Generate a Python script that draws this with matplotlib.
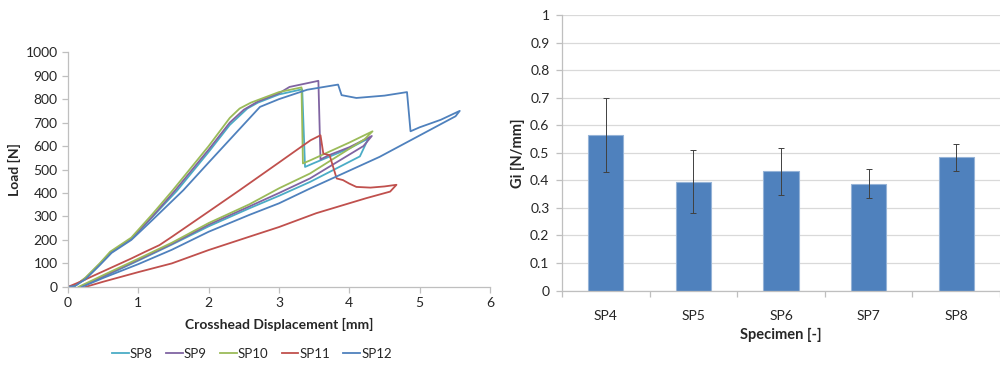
import matplotlib.pyplot as plt
from matplotlib.ticker import FixedLocator, FuncFormatter

plt.rcParams['font.family'] = ['Lato', 'DejaVu Sans']

# Load-displacement curves
sp8_x = [0, 0.1, 0.25, 0.45, 0.62, 0.9, 1.2, 1.55, 2.0, 2.3, 2.55, 2.7, 3.0, 3.33,
         3.37, 3.5, 4.0, 4.27, 4.15, 3.44, 3.0, 2.58, 2.0, 1.475, 1.0, 0.5, 0.18]
sp8_y = [0, 5, 36, 96, 148, 205, 298, 410, 575, 690, 760, 785, 820, 842,
         511, 528, 590, 632, 556, 447, 388, 335, 258, 180, 112, 42, 0]

sp9_x = [0, 0.1, 0.25, 0.45, 0.62, 0.9, 1.2, 1.52, 2.0, 2.3, 2.5, 2.7, 3.0, 3.15, 3.56,
         3.59, 3.7, 4.0, 4.32, 4.2, 3.44, 3.0, 2.58, 2.0, 1.475, 1.0, 0.5, 0.17]
sp9_y = [0, 5, 38, 97, 150, 205, 300, 410, 585, 700, 755, 790, 825, 852, 878,
         543, 560, 595, 643, 600, 462, 400, 343, 265, 183, 115, 45, 0]

sp10_x = [0, 0.1, 0.25, 0.45, 0.6, 0.9, 1.2, 1.49, 2.0, 2.3, 2.44, 2.6, 3.0, 3.32,
          3.34, 3.45, 4.0, 4.33, 4.22, 3.44, 3.0, 2.58, 2.0, 1.475, 1.0, 0.5, 0.15]
sp10_y = [0, 5, 40, 100, 150, 210, 310, 412, 600, 720, 760, 785, 830, 850,
          526, 540, 615, 663, 630, 483, 420, 352, 272, 188, 120, 50, 0]

sp11_x = [0, 0.2, 0.38, 0.6, 0.9, 1.1, 1.3, 1.475, 2.0, 2.44, 3.0, 3.25, 3.45, 3.59,
          3.63, 3.72, 3.77, 3.82, 3.91, 4.0, 4.1, 4.3, 4.5, 4.67,
          4.58, 4.24, 3.53, 3.0, 2.58, 2.0, 1.475, 1.0, 0.5, 0.25]
sp11_y = [0, 25, 50, 80, 121, 150, 178, 213, 321, 412, 530, 583, 625, 646,
          568, 561, 511, 462, 455, 440, 426, 423, 428, 435,
          406, 378, 314, 255, 214, 157, 100, 63, 22, 0]

sp12_x = [0, 0.1, 0.25, 0.45, 0.62, 0.9, 1.2, 1.64, 2.0, 2.4, 2.73, 3.0, 3.4, 3.84,
          3.89, 4.1, 4.5, 4.82, 4.87, 5.0, 5.3, 5.57,
          5.51, 4.43, 3.44, 3.0, 2.58, 2.0, 1.475, 1.0, 0.5, 0.2]
sp12_y = [0, 4, 33, 92, 145, 200, 285, 412, 530, 660, 767, 800, 840, 862,
          817, 805, 815, 830, 663, 680, 712, 750,
          727, 554, 419, 356, 307, 235, 158, 97, 38, 0]

series_names = ['SP8', 'SP9', 'SP10', 'SP11', 'SP12']
series_colors = ['#4BACC6', '#8064A2', '#9BBB59', '#C0504D', '#4F81BD']

# Fracture toughness per specimen (right panel)
specimens = ['SP4', 'SP5', 'SP6', 'SP7', 'SP8']
gi_mean = [0.565, 0.395, 0.433, 0.388, 0.483]
gi_err = [0.135, 0.115, 0.086, 0.054, 0.050]

axis_gray = '#BFBFBF'
text_col = '#262626'

fig = plt.figure(figsize=(10, 3.65), dpi=100)

# ---- left: load vs displacement
ax1 = fig.add_axes([0.068, 0.214, 0.422, 0.643])
curves = [(sp8_x, sp8_y), (sp9_x, sp9_y), (sp10_x, sp10_y), (sp11_x, sp11_y), (sp12_x, sp12_y)]
for (xs, ys), name, col in zip(curves, series_names, series_colors):
    ax1.plot(xs, ys, color=col, linewidth=1.3, label=name)

ax1.set_xlim(0, 6)
ax1.set_ylim(0, 1000)
ax1.set_xticks(range(0, 7))
ax1.set_yticks(range(0, 1001, 100))
for s in ['top', 'right']:
    ax1.spines[s].set_visible(False)
for s in ['left', 'bottom']:
    ax1.spines[s].set_color(axis_gray)
    ax1.spines[s].set_linewidth(0.9)
ax1.tick_params(colors=axis_gray, labelcolor=text_col, labelsize=10, length=4, width=0.9)
ax1.set_xlabel('Crosshead Displacement [mm]', fontsize=10, fontweight='bold', color=text_col, labelpad=6)
ax1.set_ylabel('Load [N]', fontsize=10, fontweight='bold', color=text_col, labelpad=3)
fig.legend(loc='center', bbox_to_anchor=(0.252, 0.03), ncol=5, frameon=False,
           fontsize=9.5, handlelength=1.25, handletextpad=0.1, columnspacing=1.0,
           labelcolor=text_col)

# ---- right: Gi bar chart
ax2 = fig.add_axes([0.562, 0.204, 0.438, 0.755])
pos = list(range(len(specimens)))
ax2.bar(pos, gi_mean, width=0.4, color='#4F81BD', edgecolor='#95B3D7', linewidth=0.8, zorder=2)
ax2.errorbar(pos, gi_mean, yerr=gi_err, fmt='none', ecolor='#404040', elinewidth=0.7,
             capsize=2, capthick=0.7, zorder=3)
ax2.set_xlim(-0.5, len(specimens) - 0.5)
ax2.set_ylim(0, 1)
ax2.set_yticks([i / 10 for i in range(11)])
ax2.yaxis.set_major_formatter(FuncFormatter(lambda v, p: f'{v:g}'))
ax2.set_xticks(pos)
ax2.set_xticklabels(specimens)
ax2.xaxis.set_minor_locator(FixedLocator([p - 0.5 for p in range(len(specimens) + 1)]))
ax2.tick_params(axis='x', which='major', length=0, pad=14)
ax2.tick_params(axis='x', which='minor', length=4, width=0.9, colors=axis_gray)
ax2.tick_params(axis='y', colors=axis_gray, length=4, width=0.9, pad=5)
ax2.tick_params(labelcolor=text_col, labelsize=10)
ax2.grid(axis='y', color='#D9D9D9', linewidth=0.9, zorder=0)
ax2.set_axisbelow(True)
for s in ['top', 'right']:
    ax2.spines[s].set_visible(False)
for s in ['left', 'bottom']:
    ax2.spines[s].set_color(axis_gray)
    ax2.spines[s].set_linewidth(0.9)
ax2.set_xlabel('Specimen [-]', fontsize=10.5, fontweight='bold', color=text_col, labelpad=4)
ax2.set_ylabel('Gi [N/mm]', fontsize=10.5, fontweight='bold', color=text_col, labelpad=4)

fig.savefig('out.png', dpi=100)
